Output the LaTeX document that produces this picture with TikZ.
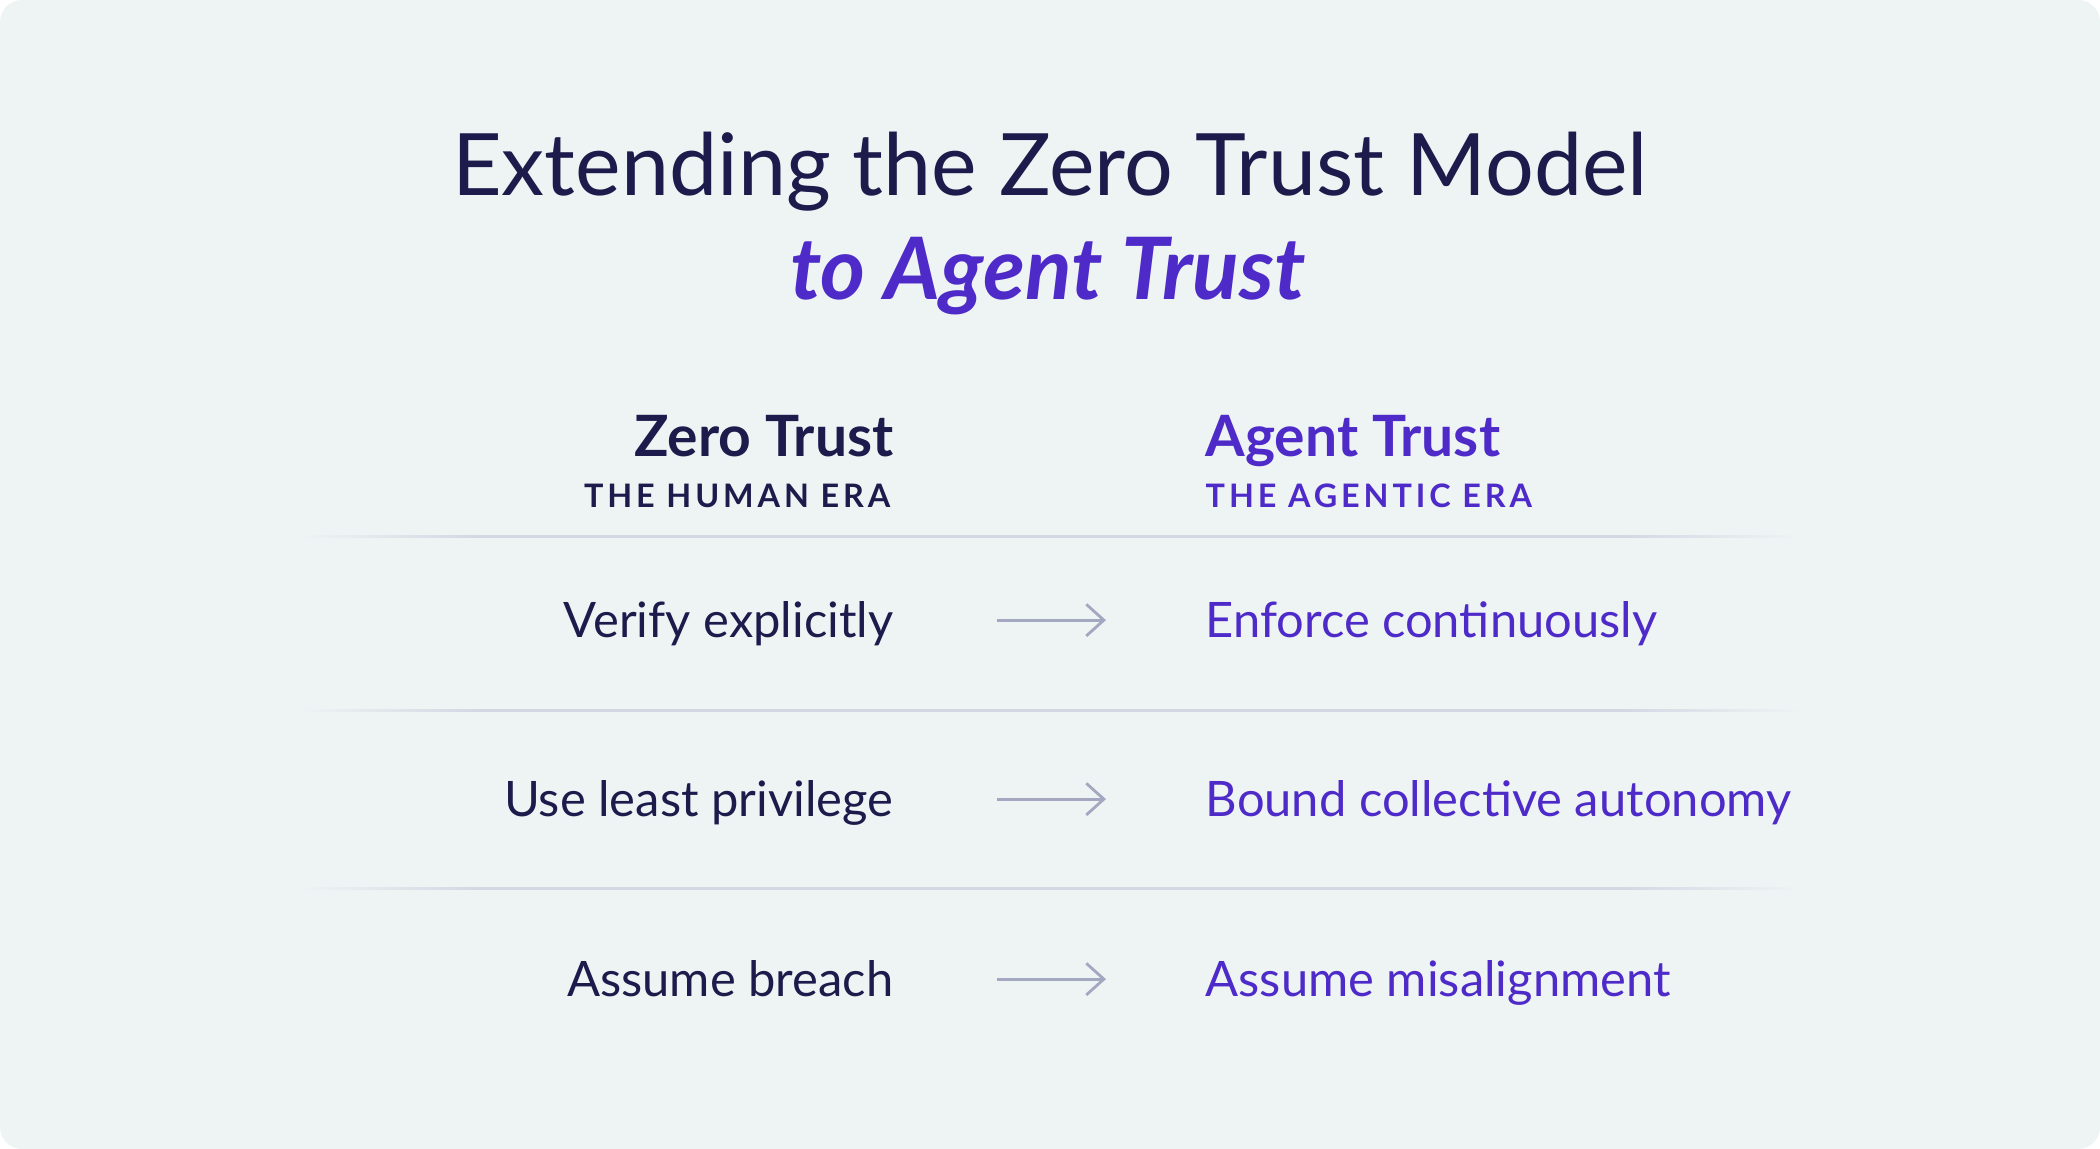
\documentclass[tikz,border=0pt]{standalone}
\usepackage{fontspec}
\setmainfont{Lato}
\newfontfamily\erafont[LetterSpace=12]{Lato}
\usepackage{xcolor}
\usetikzlibrary{arrows.meta}
\definecolor{bgc}{HTML}{EEF4F4}
\definecolor{navy}{HTML}{1C1B4B}
\definecolor{agentc}{HTML}{4E2BC9}
\definecolor{rulec}{HTML}{D3D7E3}
\definecolor{arrowc}{HTML}{A3A7BF}
% rule that fades out at both ends
\pgfdeclarehorizontalshading{rulefade}{100bp}{color(0bp)=(bgc); color(25bp)=(bgc);
	color(31bp)=(rulec); color(69bp)=(rulec); color(75bp)=(bgc); color(100bp)=(bgc)}

\begin{document}
\begin{tikzpicture}[x=0.01cm,y=-0.01cm,
		title/.style={anchor=base,inner sep=0pt,font=\fontsize{24.5}{30}\selectfont},
		head/.style={inner sep=0pt,font=\fontsize{16.2}{20}\selectfont\bfseries},
		era/.style={inner sep=0pt,font=\erafont\bfseries\fontsize{9.2}{11}\selectfont},
		zero/.style={inner sep=0pt,anchor=base east,text=navy,text height=9.6pt,text depth=0pt,
			font=\fontsize{13.9}{17}\selectfont},
		agent/.style={inner sep=0pt,anchor=base west,text=agentc,text height=9.6pt,text depth=0pt,
			font=\fontsize{13.9}{17}\selectfont},
		arrow/.style={draw=arrowc,line width=0.8pt,-{Straight Barb[length=5pt,width=9pt]},
			shorten <=1.03cm,shorten >=0.99cm},
		]
		% card
		\fill[white] (0,0) rectangle (2100,1149);
		\fill[bgc,rounded corners=0.22cm] (0,0) rectangle (2100,1149);
		
		% title
		\node[title,text=navy] (title) at (1050,196) {Extending the Zero Trust Model};
		\node[title,text=agentc,font=\fontsize{24.5}{30}\selectfont\bfseries\itshape] (subtitle) at (1048,300) {to Agent Trust};
		
		% column heads
		\node[head,text=navy,anchor=base east] (zt) at (894,457) {Zero Trust};
		\node[era,text=navy,anchor=base east] (human) at (891,508) {THE HUMAN ERA};
		\node[head,text=agentc,anchor=base west] (at) at (1205,457) {Agent Trust};
		\node[era,text=agentc,anchor=base west] (agentic) at (1205,508) {THE AGENTIC ERA};
		
		% dividers
		\foreach \y in {536,710,888}
			\shade[shading=rulefade] (300,\y-1) rectangle (1800,\y+1);
		
		% rows
		\node[zero] (verify) at (894,637) {Verify explicitly};
		\node[agent] (enforce) at (1205,637) {Enforce continuously};
		\node[zero] (least) at (894,816) {Use least privilege};
		\node[agent] (bound) at (1205,816) {Bound collective autonomy};
		\node[zero] (breach) at (894,996) {Assume breach};
		\node[agent] (misalign) at (1205,996) {Assume misalignment};
		
		\draw[arrow] (verify) -- (enforce);
		\draw[arrow] (least) -- (bound);
		\draw[arrow] (breach) -- (misalign);
	\end{tikzpicture}
\end{document}
